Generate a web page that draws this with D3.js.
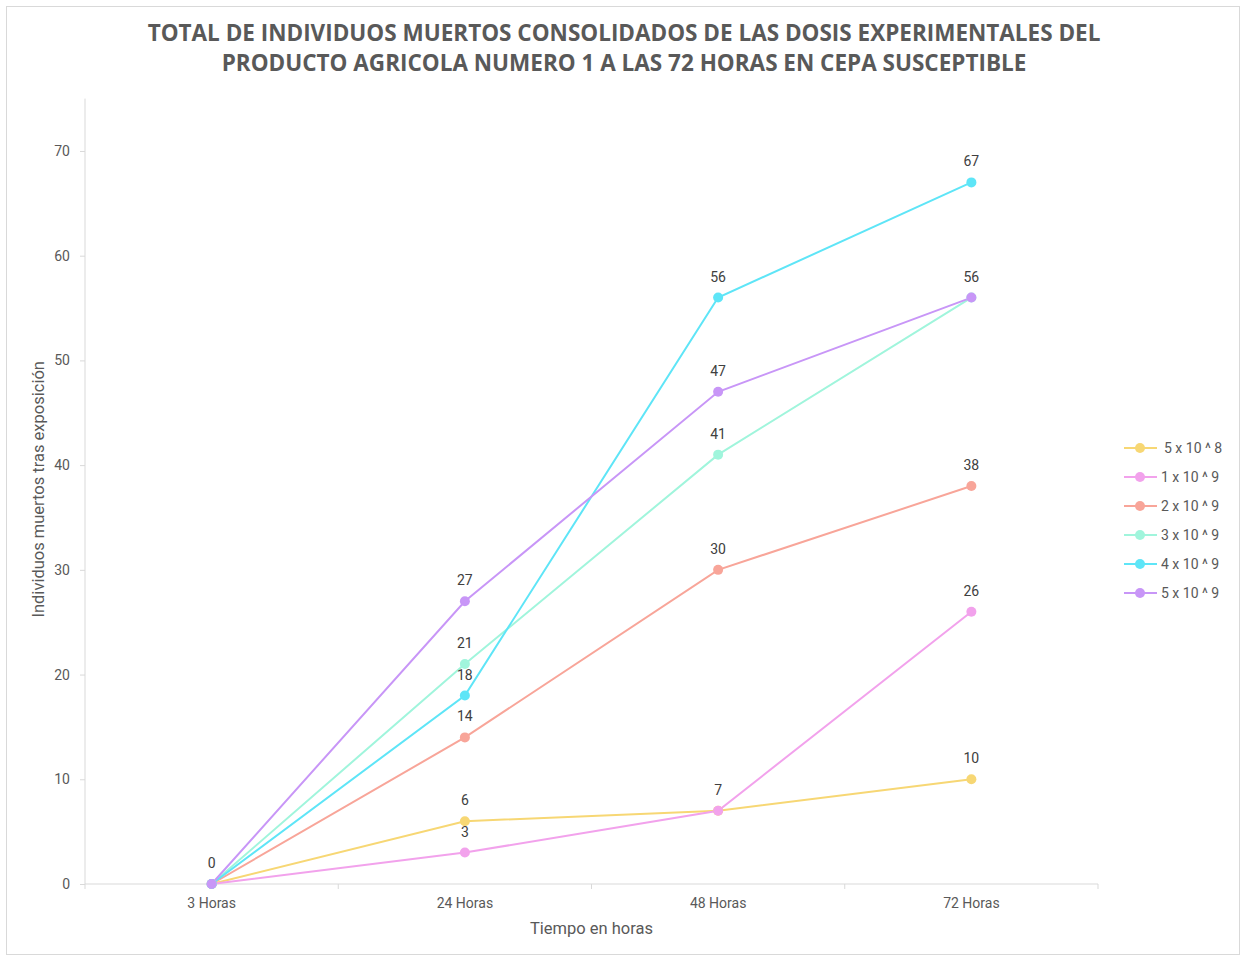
<!DOCTYPE html>
<html><head><meta charset="utf-8">
<script src="https://cdn.jsdelivr.net/npm/d3@7"></script>
<style>body{margin:0;background:#fff;}svg{display:block;}</style>
</head><body>
<script>
const categories = ["3 Horas", "24 Horas", "48 Horas", "72 Horas"];
const seriesNames = ["5 x 10 ^ 8", "1 x 10 ^ 9", "2 x 10 ^ 9", "3 x 10 ^ 9", "4 x 10 ^ 9", "5 x 10 ^ 9"];
const s5e8 = [0, 6, 7, 10];
const s1e9 = [0, 3, 7, 26];
const s2e9 = [0, 14, 30, 38];
const s3e9 = [0, 21, 41, 56];
const s4e9 = [0, 18, 56, 67];
const s5e9 = [0, 27, 47, 56];
const seriesValues = [s5e8, s1e9, s2e9, s3e9, s4e9, s5e9];
const colors = ["#f7d774", "#f2a2ec", "#f8a599", "#a0f5dc", "#5ee5f7", "#c896f7"];
const yTicks = [0, 10, 20, 30, 40, 50, 60, 70];
const titleLines = ["TOTAL DE INDIVIDUOS MUERTOS CONSOLIDADOS DE LAS DOSIS EXPERIMENTALES DEL",
  "PRODUCTO AGRICOLA NUMERO 1 A LAS 72 HORAS EN CEPA SUSCEPTIBLE"];

const W = 1241, H = 956;
const svg = d3.select("body").append("svg").attr("width", W).attr("height", H);
svg.append("rect").attr("x", 6.5).attr("y", 6.5).attr("width", W - 8).attr("height", H - 8)
  .attr("fill", "#fff").attr("stroke", "#d9d9d9");

const font = "Roboto, 'Open Sans', sans-serif";
const L = 85, R = 1098, T = 98.6, B = 884;
const x = d3.scaleBand().domain(categories).range([L, R]);
const y = d3.scaleLinear().domain([0, 75]).range([B, T]);

// title
svg.append("g").selectAll("text").data(titleLines).join("text")
  .attr("x", 624).attr("y", (d, i) => 41 + i * 30)
  .attr("text-anchor", "middle").attr("font-family", "'Open Sans', sans-serif")
  .attr("font-weight", "bold").attr("font-size", 22.5).attr("fill", "#595959").text(d => d);

// y axis
const yAxis = svg.append("g").attr("transform", `translate(${L},0)`)
  .call(d3.axisLeft(y).tickValues(yTicks).tickSize(5).tickPadding(10));
yAxis.select(".domain").attr("stroke", "#d9d9d9").attr("d", `M0,${T}V${B}`);
yAxis.selectAll(".tick line").attr("stroke", "#d9d9d9");
yAxis.selectAll(".tick text").attr("font-family", font).attr("font-size", 14).attr("fill", "#595959");

// x axis
const xAxis = svg.append("g").attr("transform", `translate(0,${B})`)
  .call(d3.axisBottom(x).tickSize(0).tickPadding(14));
xAxis.select(".domain").attr("stroke", "#d9d9d9").attr("d", `M${L},0H${R}`);
xAxis.selectAll(".tick text").attr("font-family", font).attr("font-size", 14).attr("fill", "#595959");
const bounds = [L].concat(categories.map(c => x(c) + x.bandwidth()));
svg.append("g").selectAll("line").data(bounds).join("line")
  .attr("x1", d => d).attr("x2", d => d).attr("y1", B).attr("y2", B + 5).attr("stroke", "#d9d9d9");

// axis titles
svg.append("text").attr("x", (L + R) / 2).attr("y", 934).attr("text-anchor", "middle")
  .attr("font-family", font).attr("font-size", 16.5).attr("fill", "#595959").text("Tiempo en horas");
svg.append("text").attr("transform", `translate(44,${(T + B) / 2 - 2}) rotate(-90)`).attr("text-anchor", "middle")
  .attr("font-family", font).attr("font-size", 16.5).attr("fill", "#595959").text("Individuos muertos tras exposición");

const cx = c => x(c) + x.bandwidth() / 2;
const line = d3.line().x((d, i) => cx(categories[i])).y(d => y(d));

const g = svg.append("g");
seriesValues.forEach((vals, si) => {
  g.append("path").datum(vals).attr("d", line).attr("fill", "none")
    .attr("stroke", colors[si]).attr("stroke-width", 2);
});
seriesValues.forEach((vals, si) => {
  g.append("g").selectAll("circle").data(vals).join("circle")
    .attr("cx", (d, i) => cx(categories[i])).attr("cy", d => y(d)).attr("r", 5)
    .attr("fill", colors[si]);
});
// data labels (coincident labels drawn once)
const labelData = [];
const seen = new Set();
seriesValues.forEach(vals => vals.forEach((v, i) => {
  const k = i + ":" + v;
  if (!seen.has(k)) { seen.add(k); labelData.push({ i, v }); }
}));
g.append("g").selectAll("text").data(labelData).join("text")
  .attr("x", d => cx(categories[d.i])).attr("y", d => y(d.v) - 16)
  .attr("text-anchor", "middle").attr("font-family", font).attr("font-size", 14)
  .attr("fill", "#404040").text(d => d.v);

// legend
const lg = svg.append("g");
seriesNames.forEach((n, i) => {
  const yy = 448 + i * 29;
  lg.append("line").attr("x1", 1124).attr("x2", 1157).attr("y1", yy).attr("y2", yy)
    .attr("stroke", colors[i]).attr("stroke-width", 2);
  lg.append("circle").attr("cx", 1140).attr("cy", yy).attr("r", 5).attr("fill", colors[i]);
  lg.append("text").attr("x", i === 0 ? 1164 : 1161).attr("y", yy + 5)
    .attr("font-family", font).attr("font-size", 14).attr("fill", "#595959").text(n);
});
</script>
</body></html>
